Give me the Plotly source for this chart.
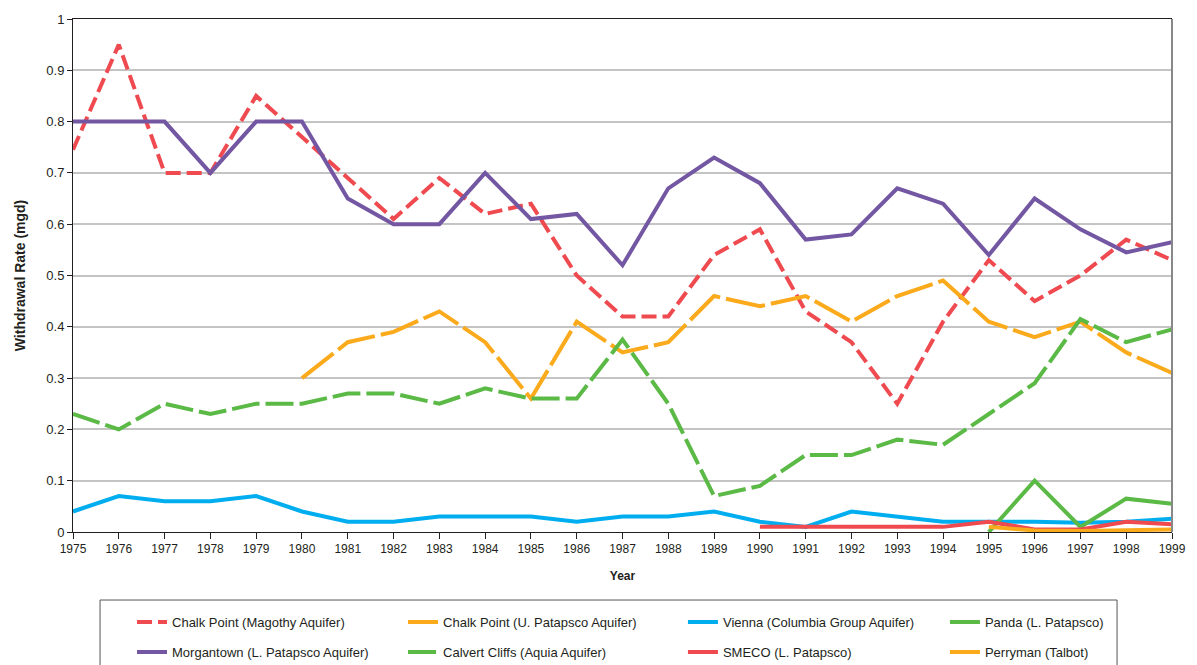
import plotly.graph_objects as go

years = list(range(1975, 2000))

chalk_magothy = [0.745, 0.95, 0.70, 0.70, 0.85, 0.77, 0.69, 0.61, 0.69, 0.62, 0.64, 0.50, 0.42,
                 0.42, 0.54, 0.59, 0.43, 0.37, 0.25, 0.41, 0.53, 0.45, 0.50, 0.57, 0.53]
morgantown = [0.80, 0.80, 0.80, 0.70, 0.80, 0.80, 0.65, 0.60, 0.60, 0.70, 0.61, 0.62, 0.52,
              0.67, 0.73, 0.68, 0.57, 0.58, 0.67, 0.64, 0.54, 0.65, 0.59, 0.545, 0.565]
chalk_patapsco_years = list(range(1980, 2000))
chalk_patapsco = [0.30, 0.37, 0.39, 0.43, 0.37, 0.26, 0.41, 0.35, 0.37, 0.46, 0.44, 0.46, 0.41,
                  0.46, 0.49, 0.41, 0.38, 0.41, 0.35, 0.31]
calvert = [0.23, 0.20, 0.25, 0.23, 0.25, 0.25, 0.27, 0.27, 0.25, 0.28, 0.26, 0.26, 0.375,
           0.25, 0.07, 0.09, 0.15, 0.15, 0.18, 0.17, 0.23, 0.29, 0.415, 0.37, 0.395]
vienna = [0.04, 0.07, 0.06, 0.06, 0.07, 0.04, 0.02, 0.02, 0.03, 0.03, 0.03, 0.02, 0.03,
          0.03, 0.04, 0.02, 0.01, 0.04, 0.03, 0.02, 0.02, 0.02, 0.018, 0.02, 0.026]
smeco_years = list(range(1990, 2000))
smeco = [0.01, 0.01, 0.01, 0.01, 0.01, 0.02, 0.005, 0.005, 0.02, 0.015]
panda_years = list(range(1995, 2000))
panda = [0.0, 0.10, 0.01, 0.065, 0.055]
perryman_years = list(range(1995, 2000))
perryman = [0.01, 0.003, 0.002, 0.003, 0.005]

RED = "#EF4A50"
ORANGE = "#FBAA1C"
BLUE = "#00AEEF"
GREEN = "#5BB946"
PURPLE = "#7457A3"

fig = go.Figure()

def add(name, x, y, color, dash, legend, group):
    fig.add_trace(go.Scatter(x=x, y=y, name=name, mode="lines", legend=legend,
                             legendgroup=group,
                             line=dict(color=color, width=4, dash=dash)))

add("Chalk Point (Magothy Aquifer)", years, chalk_magothy, RED, "15px,6px", "legend", "a1")
add("Chalk Point (U. Patapsco Aquifer)", chalk_patapsco_years, chalk_patapsco, ORANGE, "40px,6px", "legend2", "b1")
add("Vienna (Columbia Group Aquifer)", years, vienna, BLUE, "solid", "legend3", "c1")
add("Panda (L. Patapsco)", panda_years, panda, GREEN, "solid", "legend4", "d1")
add("Morgantown (L. Patapsco Aquifer)", years, morgantown, PURPLE, "solid", "legend", "a2")
add("Calvert Cliffs (Aquia Aquifer)", years, calvert, GREEN, "28px,6px", "legend2", "b2")
add("SMECO (L. Patapsco)", smeco_years, smeco, RED, "solid", "legend3", "c2")
add("Perryman (Talbot)", perryman_years, perryman, ORANGE, "solid", "legend4", "d2")

font_family = "Liberation Sans, Arial, sans-serif"

leg_common = dict(
    orientation="v", xanchor="left", yanchor="middle", y=-0.205,
    borderwidth=0, bgcolor="rgba(0,0,0,0)", tracegroupgap=10,
    font=dict(size=13, family=font_family, color="#231F20"),
)

# The page body adds an 8px offset; figure is sized so the plot area lands at x 73-1172, y 19-532
fig.update_layout(
    width=1189, height=657,
    margin=dict(l=65, r=25, t=11, b=133, autoexpand=False),
    paper_bgcolor="white", plot_bgcolor="white",
    font=dict(family=font_family, size=12, color="#231F20"),
    showlegend=True,
    legend=dict(x=0.0537, **leg_common),
    legend2=dict(x=0.3003, **leg_common),
    legend3=dict(x=0.555, **leg_common),
    legend4=dict(x=0.7934, **leg_common),
    xaxis=dict(
        range=[1975, 1999], tickmode="linear", dtick=1, tick0=1975,
        showgrid=False, showline=True, linecolor="#231F20", linewidth=1,
        mirror=True, ticks="outside", ticklen=6, tickcolor="#231F20",
        tickfont=dict(size=12), zeroline=False, automargin=False,
        title=dict(text="<b>Year</b>", font=dict(size=12), standoff=16),
    ),
    yaxis=dict(
        range=[0, 1], tickmode="linear", dtick=0.1, tick0=0,
        showgrid=True, gridcolor="#C4C4C4", gridwidth=1.5,
        showline=True, linecolor="#231F20", linewidth=1,
        ticks="outside", ticklen=5, tickcolor="#231F20",
        tickfont=dict(size=13), zeroline=False, automargin=False,
        title=dict(text="<b>Withdrawal Rate (mgd)</b>", font=dict(size=14), standoff=17),
    ),
)

# right border of plot area
fig.add_shape(type="line", xref="paper", yref="paper", x0=1, x1=1, y0=0, y1=1,
              line=dict(color="#888888", width=2))
# legend frame
fig.add_shape(type="rect", xref="paper", yref="paper",
              x0=0.0246, x1=0.95, y0=-0.29, y1=-0.1326,
              line=dict(color="#555555", width=1), fillcolor="rgba(0,0,0,0)", layer="below")

fig.write_html("out.html")
